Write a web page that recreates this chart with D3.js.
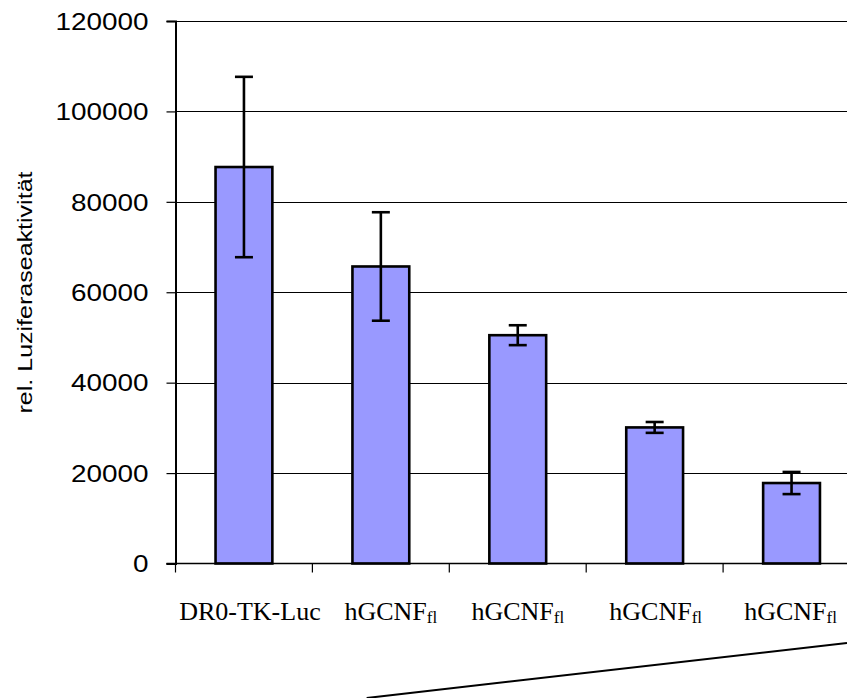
<!DOCTYPE html>
<html>
<head>
<meta charset="utf-8">
<script src="https://cdn.jsdelivr.net/npm/d3@7"></script>
<style>
  html, body { margin: 0; padding: 0; background: #fff; }
  svg { display: block; }
</style>
</head>
<body>
<svg id="chart" width="847" height="698"></svg>
<script>
// ---- data ----
const categories = ["DR0-TK-Luc", "hGCNF1", "hGCNF2", "hGCNF3", "hGCNF4"];
const labelMain = ["DR0-TK-Luc", "hGCNF", "hGCNF", "hGCNF", "hGCNF"];
const labelSub = ["", "fl", "fl", "fl", "fl"];
const values = [87700, 65700, 50500, 30100, 17800];
const errors = [19950, 12000, 2200, 1200, 2450];
const yTicks = [0, 20000, 40000, 60000, 80000, 100000, 120000];
const yTitle = "rel. Luziferaseaktivität";

// ---- layout ----
const W = 847, H = 698;
const plot = { left: 175.5, top: 21, right: 860, bottom: 563.5 };
const labelShift = [6, 10, 0, 1, -1];

const svg = d3.select("#chart");

const x = d3.scaleBand()
  .domain(categories)
  .range([plot.left, plot.right])
  .paddingInner(0.585)
  .paddingOuter(0.2925);

const y = d3.scaleLinear()
  .domain([0, 120000])
  .range([plot.bottom, plot.top]);

// gridlines
svg.append("g")
  .selectAll("line")
  .data(yTicks.filter(d => d > 0))
  .join("line")
  .attr("x1", plot.left)
  .attr("x2", plot.right)
  .attr("y1", d => Math.round(y(d)) + 0.5)
  .attr("y2", d => Math.round(y(d)) + 0.5)
  .attr("stroke", "#000")
  .attr("stroke-width", 1);

// bars
svg.append("g")
  .selectAll("rect")
  .data(values)
  .join("rect")
  .attr("x", (d, i) => x(categories[i]))
  .attr("y", d => y(d))
  .attr("width", x.bandwidth())
  .attr("height", d => plot.bottom - y(d))
  .attr("fill", "#9999FF")
  .attr("stroke", "#000")
  .attr("stroke-width", 2.6);

// error bars
const capW = 18;
const eg = svg.append("g").attr("stroke", "#000").attr("stroke-width", 2.6);
values.forEach((v, i) => {
  const cx = x(categories[i]) + x.bandwidth() / 2;
  const y1 = y(v + errors[i]), y0 = y(v - errors[i]);
  eg.append("line").attr("x1", cx).attr("x2", cx).attr("y1", y1).attr("y2", y0);
  eg.append("line").attr("x1", cx - capW / 2).attr("x2", cx + capW / 2).attr("y1", y1).attr("y2", y1);
  eg.append("line").attr("x1", cx - capW / 2).attr("x2", cx + capW / 2).attr("y1", y0).attr("y2", y0);
});

// y axis
const yAxis = d3.axisLeft(y)
  .tickValues(yTicks)
  .tickSize(9)
  .tickPadding(18)
  .tickFormat(d3.format("d"));
const yg = svg.append("g")
  .attr("transform", `translate(${plot.left},0)`)
  .call(yAxis);
yg.select(".domain").attr("stroke", "#000").attr("stroke-width", 2);
yg.selectAll(".tick line").attr("stroke", "#000").attr("stroke-width", 1.2);
yg.selectAll(".tick text")
  .attr("font-family", "Arial, 'Liberation Sans', sans-serif")
  .attr("font-size", 23)
  .attr("fill", "#000")
  .attr("dy", "0.36em")
  .attr("textLength", d => String(d).length * 15.5)
  .attr("lengthAdjust", "spacingAndGlyphs");

// x axis
const xAxisG = svg.append("g");
xAxisG.append("line")
  .attr("x1", plot.left - 9).attr("x2", plot.right)
  .attr("y1", plot.bottom).attr("y2", plot.bottom)
  .attr("stroke", "#000").attr("stroke-width", 1.5);
const bounds = categories.map(c => x(c) - x.step() * x.paddingInner() / 2);
bounds.push(plot.right);
xAxisG.selectAll("line.tk")
  .data(bounds)
  .join("line")
  .attr("class", "tk")
  .attr("x1", d => d).attr("x2", d => d)
  .attr("y1", plot.bottom).attr("y2", plot.bottom + 9)
  .attr("stroke", "#000").attr("stroke-width", 1.2);

// x labels
const lab = svg.append("g")
  .attr("font-family", "'Times New Roman', 'Liberation Serif', serif")
  .attr("fill", "#000");
categories.forEach((c, i) => {
  const t = lab.append("text")
    .attr("x", x(c) + x.bandwidth() / 2 + labelShift[i])
    .attr("y", 620)
    .attr("text-anchor", "middle")
    .attr("font-size", 26);
  t.append("tspan").text(labelMain[i]);
  if (labelSub[i]) {
    t.append("tspan").attr("font-size", 17).attr("dy", 3).text(labelSub[i]);
  }
});

// y title
svg.append("text")
  .attr("transform", `translate(32,${(172 + 413) / 2}) rotate(-90)`)
  .attr("text-anchor", "middle")
  .attr("font-family", "Arial, 'Liberation Sans', sans-serif")
  .attr("font-size", 21)
  .attr("textLength", 242)
  .attr("lengthAdjust", "spacingAndGlyphs")
  .attr("fill", "#000")
  .text(yTitle);

// concentration ramp (increasing hGCNF amount)
const rampStart = x(categories[1]) + x.bandwidth() * 0.25;
svg.append("line")
  .attr("x1", rampStart).attr("y1", H)
  .attr("x2", W).attr("y2", H - 55)
  .attr("stroke", "#000").attr("stroke-width", 2);
</script>
</body>
</html>
